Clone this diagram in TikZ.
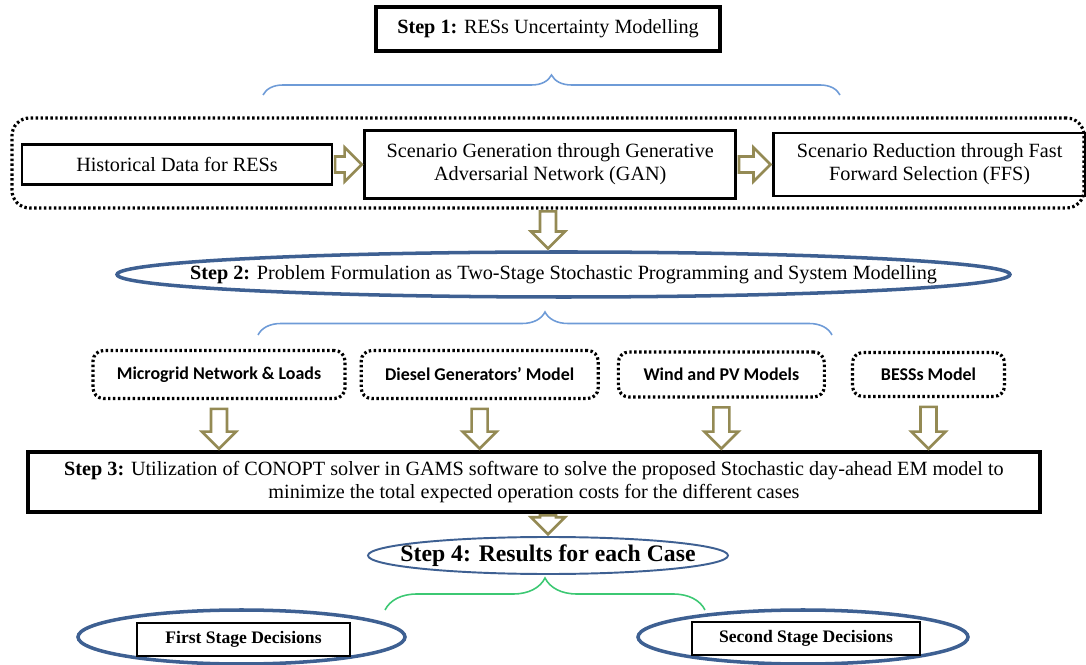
\documentclass[tikz,border=0pt]{standalone}
\usepackage{fontspec}
\setmainfont{Liberation Serif}
\newfontfamily\modelfont{Carlito}
\usetikzlibrary{shapes,arrows}
\usetikzlibrary{positioning}
\usetikzlibrary{calc}
\usetikzlibrary{decorations.pathreplacing}
\usepackage{xcolor}
\definecolor{arrowol}{RGB}{148,138,84}
\definecolor{ellblue}{RGB}{62,96,146}
\definecolor{braceblue}{RGB}{110,155,215}
\definecolor{bracegreen}{RGB}{60,200,115}

\tikzset{
  blockarrow/.style={draw=arrowol, line width=1.5pt, fill=white, line join=miter,
    to path={let \p1=($(\tikztostart)!#1!(\tikztotarget)$),
                 \p2=($(\tikztotarget)!1pt!(\tikztostart)$),
                 \p3=($(\p2)!0.34cm!(\p1)$) in
      ($(\p1)!0.16cm!90:(\p2)$) -- ($(\p3)!0.16cm!90:(\p2)$)
      -- ($(\p3)!0.34cm!90:(\p2)$) -- (\p2)
      -- ($(\p3)!0.34cm!-90:(\p2)$) -- ($(\p3)!0.16cm!-90:(\p2)$)
      -- ($(\p1)!0.16cm!-90:(\p2)$) -- cycle}},
  blockarrow/.default=1pt
}

\begin{document}
\begin{tikzpicture}[
  font=\fontsize{11.5}{13}\selectfont,
  stepbox/.style={draw, line width=1.8pt, align=center, inner sep=2pt},
  databox/.style={draw, line width=1.6pt, align=center, inner sep=2pt},
  dotbox/.style={draw, line width=1.8pt, dash pattern=on 1.4pt off 1.4pt,
    rounded corners=6pt, align=center, font=\modelfont\bfseries\fontsize{10.2}{12}\selectfont},
  stepell/.style={draw=ellblue, ellipse, line width=2pt, inner sep=0pt},
  decbox/.style={draw, line width=0.8pt, font=\bfseries\fontsize{10}{12}\selectfont},
  curly/.style={draw=braceblue, line width=0.9pt, decorate, decoration={brace, amplitude=#1}}
]
  \useasboundingbox (0,0) rectangle (21.72,13.28);

  \node[stepbox, minimum width=6.88cm, minimum height=0.88cm] (s1) at (10.96,12.70)
    {\textbf{Step 1:} RESs Uncertainty Modelling};

  \coordinate (b1l) at (5.26,11.38);
  \coordinate (b1r) at (16.80,11.38);
  \draw[curly=0.4cm] (b1l) -- (b1r);

  \node[dotbox, rounded corners=10pt, minimum width=21.44cm, minimum height=1.80cm] (grp) at (10.96,10.02) {};
  \node[databox, minimum width=6.2cm, minimum height=0.8cm] (hist) at (3.54,9.99) {Historical Data for RESs};
  \node[databox, minimum width=7.42cm, minimum height=1.36cm] (gan) [right=0.6cm of hist]
    {Scenario Generation through Generative\\Adversarial Network (GAN)};
  \node[databox, minimum width=6.24cm, minimum height=1.26cm] (ffs) [right=0.7cm of gan]
    {Scenario Reduction through Fast\\Forward Selection (FFS)};

  \path (hist.east) edge[blockarrow] (gan.west)
        (gan.east) edge[blockarrow] (ffs.west);

  \node[stepell, minimum width=17.86cm, minimum height=0.90cm] (s2) at (11.27,7.79) {};
  \node (s2t) at (s2.center)
    {\textbf{Step 2:} Problem Formulation as Two-Stage Stochastic Programming and System Modelling};

  \path (grp.south) edge[blockarrow] (grp.south |- s2.north);

  \coordinate (b2l) at (5.16,6.58);
  \coordinate (b2r) at (16.64,6.58);
  \draw[curly=0.46cm] (b2l) -- (b2r);

  \node[dotbox, minimum width=5.04cm, minimum height=0.96cm] (mg) at (4.38,5.79) {Microgrid Network \& Loads};
  \node[dotbox, minimum width=4.74cm, minimum height=0.96cm] (dg) [right=0.26cm of mg] {Diesel Generators’ Model};
  \node[dotbox, minimum width=4.12cm, minimum height=0.90cm] (wp) [right=0.34cm of dg] {Wind and PV Models};
  \node[dotbox, minimum width=3.04cm, minimum height=0.88cm] (bs) [right=0.5cm of wp] {BESSs Model};

  \node[stepbox, minimum width=20.24cm, minimum height=1.20cm] (s3) at (10.68,3.64)
    {\textbf{Step 3:} Utilization of CONOPT solver in GAMS software to solve the proposed Stochastic day-ahead EM model to\\
     minimize the total expected operation costs for the different cases};

  \path (mg.south) edge[blockarrow=5pt] (mg.south |- s3.north)
        (dg.south) edge[blockarrow=5pt] (dg.south |- s3.north)
        (wp.south) edge[blockarrow=5pt] (wp.south |- s3.north)
        (bs.south) edge[blockarrow=5pt] (bs.south |- s3.north);

  \node[stepell, line width=1.1pt, minimum width=7.2cm, minimum height=0.74cm] (s4) at (10.96,2.17) {};
  \node (s4t) at (s4.center) {\fontsize{13.5}{16}\selectfont\textbf{Step 4: Results for each Case}};

  \path (s4.north |- s3.south) edge[blockarrow] (s4.north);

  \coordinate (b3l) at (7.70,1.08);
  \coordinate (b3r) at (14.10,1.08);
  \draw[curly=0.64cm, draw=bracegreen] (b3l) -- (b3r);

  \node[stepell, minimum width=6.54cm, minimum height=1.08cm] (fs) at (4.83,0.54) {};
  \node[decbox, minimum width=4.26cm, minimum height=0.66cm] (fsbox) at (4.87,0.49) {First Stage Decisions};
  \node[stepell, minimum width=6.60cm, minimum height=1.08cm] (ss) at (16.06,0.54) {};
  \node[decbox, minimum width=4.56cm, minimum height=0.66cm] (ssbox) at (16.12,0.51) {Second Stage Decisions};
\end{tikzpicture}
\end{document}
